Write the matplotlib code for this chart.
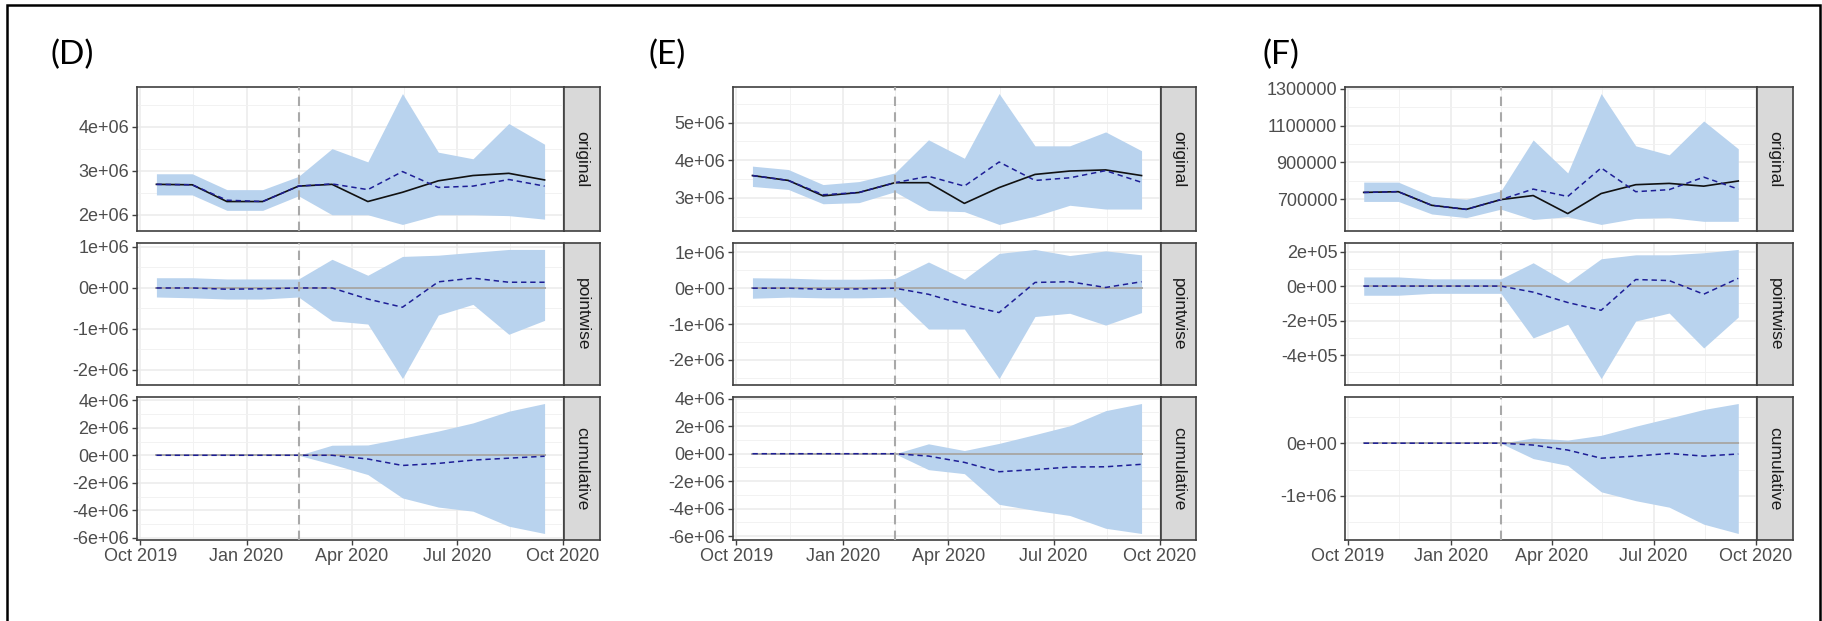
import numpy as np
import pandas as pd
import matplotlib
matplotlib.use('Agg')
import matplotlib.pyplot as plt
import matplotlib.dates as mdates
from matplotlib.ticker import FuncFormatter, MultipleLocator, FixedLocator

plt.rcParams['font.family'] = ['Liberation Sans', 'DejaVu Sans']

# monthly time points
dates = pd.to_datetime(['2019-10-15', '2019-11-15', '2019-12-15', '2020-01-15',
                        '2020-02-15', '2020-03-15', '2020-04-15', '2020-05-15',
                        '2020-06-15', '2020-07-15', '2020-08-15', '2020-09-15'])
intervention = pd.Timestamp('2020-02-15')
x_ticks = pd.to_datetime(['2019-10-01', '2020-01-01', '2020-04-01', '2020-07-01', '2020-10-01'])
x_labels = ['Oct 2019', 'Jan 2020', 'Apr 2020', 'Jul 2020', 'Oct 2020']
facets = ['original', 'pointwise', 'cumulative']

# ---- panel D (values in 1e6)
d_actual = [2.69, 2.68, 2.30, 2.30, 2.65, 2.69, 2.30, 2.51, 2.77, 2.89, 2.94, 2.79]
d_pred = [2.69, 2.68, 2.33, 2.30, 2.65, 2.70, 2.57, 2.98, 2.62, 2.65, 2.80, 2.65]
d_pred_hi = [2.93, 2.93, 2.57, 2.57, 2.87, 3.50, 3.20, 4.75, 3.42, 3.27, 4.07, 3.60]
d_pred_lo = [2.45, 2.45, 2.10, 2.10, 2.43, 2.00, 2.00, 1.78, 2.00, 2.00, 1.98, 1.90]
d_point = [0.0, 0.0, -0.03, -0.02, 0.0, 0.0, -0.27, -0.47, 0.15, 0.24, 0.14, 0.14]
d_point_hi = [0.25, 0.25, 0.22, 0.22, 0.22, 0.70, 0.31, 0.77, 0.80, 0.87, 0.94, 0.94]
d_point_lo = [-0.22, -0.24, -0.27, -0.27, -0.22, -0.80, -0.88, -2.21, -0.66, -0.40, -1.13, -0.79]
d_cum = [0, 0, 0, 0, 0, 0.0, -0.27, -0.74, -0.59, -0.35, -0.21, -0.07]
d_cum_hi = [0, 0, 0, 0, 0, 0.73, 0.75, 1.24, 1.76, 2.35, 3.20, 3.76]
d_cum_lo = [0, 0, 0, 0, 0, -0.65, -1.40, -3.10, -3.76, -4.06, -5.15, -5.68]

# ---- panel E (values in 1e6)
e_actual = [3.59, 3.46, 3.05, 3.14, 3.40, 3.40, 2.85, 3.27, 3.62, 3.71, 3.74, 3.59]
e_pred = [3.59, 3.46, 3.08, 3.14, 3.40, 3.57, 3.31, 3.95, 3.46, 3.53, 3.72, 3.41]
e_pred_hi = [3.84, 3.75, 3.35, 3.43, 3.66, 4.54, 4.05, 5.77, 4.38, 4.38, 4.75, 4.25]
e_pred_lo = [3.30, 3.22, 2.84, 2.87, 3.16, 2.66, 2.63, 2.29, 2.51, 2.80, 2.70, 2.70]
e_point = [0.0, 0.0, -0.03, -0.02, 0.0, -0.17, -0.46, -0.68, 0.16, 0.18, 0.02, 0.18]
e_point_hi = [0.29, 0.28, 0.25, 0.25, 0.27, 0.73, 0.25, 0.97, 1.08, 0.91, 1.04, 0.93]
e_point_lo = [-0.28, -0.25, -0.27, -0.27, -0.25, -1.14, -1.14, -2.52, -0.79, -0.70, -1.03, -0.68]
e_cum = [0, 0, 0, 0, 0, -0.17, -0.63, -1.31, -1.15, -0.97, -0.95, -0.77]
e_cum_hi = [0, 0, 0, 0, 0, 0.72, 0.23, 0.75, 1.39, 2.03, 3.13, 3.65]
e_cum_lo = [0, 0, 0, 0, 0, -1.16, -1.45, -3.68, -4.12, -4.49, -5.42, -5.80]

# ---- panel F (values in 1e3)
f_actual = [737, 741, 667, 645, 698, 720, 622, 731, 779, 786, 771, 799]
f_pred = [737, 741, 667, 645, 698, 755, 715, 870, 741, 752, 820, 755]
f_pred_hi = [793, 793, 716, 700, 745, 1022, 843, 1274, 990, 941, 1125, 974]
f_pred_lo = [688, 688, 620, 600, 646, 590, 605, 563, 596, 600, 580, 580]
f_point = [0, 0, 0, 0, 0, -35, -95, -140, 38, 32, -47, 45]
f_point_hi = [53, 53, 42, 42, 42, 135, 19, 158, 181, 181, 193, 212]
f_point_lo = [-53, -53, -42, -42, -42, -300, -221, -535, -202, -156, -358, -179]
f_cum = [0, 0, 0, 0, 0, -35, -130, -285, -245, -195, -245, -205]
f_cum_hi = [0, 0, 0, 0, 0, 100, 60, 150, 323, 477, 640, 754]
f_cum_lo = [0, 0, 0, 0, 0, -292, -423, -923, -1092, -1215, -1538, -1715]

d_ticks = [[2e6, 3e6, 4e6], [-2e6, -1e6, 0, 1e6], [-6e6, -4e6, -2e6, 0, 2e6, 4e6]]
e_ticks = [[3e6, 4e6, 5e6], [-2e6, -1e6, 0, 1e6], [-6e6, -4e6, -2e6, 0, 2e6, 4e6]]
f_ticks = [[700000, 900000, 1100000, 1300000], [-4e5, -2e5, 0, 2e5], [-1e6, 0]]

W, H = 1822, 621
fig = plt.figure(figsize=(W / 100, H / 100), dpi=100)

def add_ax(x0, y0, x1, y1):
    return fig.add_axes([x0 / W, 1 - y1 / H, (x1 - x0) / W, (y1 - y0) / H])

sci = FuncFormatter(lambda v, p: f'{v:.0e}')
plain = FuncFormatter(lambda v, p: f'{v:.0f}')

FILL = '#B9D3EE'
GREY = '#A9A9A9'
BLUE = '#1E1E96'
rows = [(87, 231), (243, 385), (397, 540)]

def draw_panel(label, label_x, cols, scale, series, ticks, fmts):
    x0, x1, xs = cols
    fig.text(label_x / W, 1 - 55 / H, label, fontsize=24, family='Lato', va='center', ha='left')
    for i, (y0, y1) in enumerate(rows):
        ax = add_ax(x0, y0, x1, y1)
        mid, lo, hi, actual = series[i]
        ax.fill_between(dates, np.array(lo) * scale, np.array(hi) * scale, color=FILL, lw=0, zorder=2)
        if actual is not None:
            ax.plot(dates, np.array(actual) * scale, color='#111111', lw=1.2, zorder=3)
        else:
            ax.plot(dates[[0, -1]], [0, 0], color=GREY, lw=1.4, zorder=3)
        ax.plot(dates, np.array(mid) * scale, color=BLUE, lw=1.1, ls=(0, (3.5, 2.5)), zorder=4)
        ax.axvline(intervention, color=GREY, lw=1.5, ls=(0, (4.5, 3)), zorder=5)
        ax.margins(x=0.05, y=0.05)
        ax.yaxis.set_major_locator(FixedLocator(ticks[i]))
        step = ticks[i][1] - ticks[i][0]
        ax.yaxis.set_minor_locator(MultipleLocator(step / 2))
        ax.yaxis.set_major_formatter(fmts[i])
        ax.set_xticks(x_ticks)
        ax.xaxis.set_minor_locator(FixedLocator(mdates.date2num(pd.to_datetime(
            ['2019-11-16', '2020-02-15', '2020-05-16', '2020-08-16']))))
        ax.grid(which='major', color='#EBEBEB', lw=1.1, zorder=0)
        ax.grid(which='minor', color='#F2F2F2', lw=0.7, zorder=0)
        ax.set_axisbelow(True)
        for s in ax.spines.values():
            s.set_color('#404040')
            s.set_linewidth(1.2)
        ax.tick_params(which='major', length=3.5, width=1.0, color='#404040',
                       labelcolor='#4D4D4D', labelsize=13, pad=2)
        ax.tick_params(which='minor', length=0)
        if i < 2:
            ax.tick_params(axis='x', which='major', length=0, labelbottom=False)
        else:
            ax.set_xticklabels(x_labels)
        # facet strip
        st = add_ax(x1, y0, xs, y1)
        st.set_facecolor('#D9D9D9')
        st.set_xticks([])
        st.set_yticks([])
        for s in st.spines.values():
            s.set_color('#404040')
            s.set_linewidth(1.2)
        st.text(0.5, 0.5, facets[i], rotation=270, ha='center', va='center',
                fontsize=12.5, color='#1A1A1A', transform=st.transAxes)

draw_panel('(D)', 50, (137, 564, 600), 1e6,
           [(d_pred, d_pred_lo, d_pred_hi, d_actual),
            (d_point, d_point_lo, d_point_hi, None),
            (d_cum, d_cum_lo, d_cum_hi, None)],
           d_ticks, [sci, sci, sci])
draw_panel('(E)', 649, (733, 1161, 1196), 1e6,
           [(e_pred, e_pred_lo, e_pred_hi, e_actual),
            (e_point, e_point_lo, e_point_hi, None),
            (e_cum, e_cum_lo, e_cum_hi, None)],
           e_ticks, [sci, sci, sci])
draw_panel('(F)', 1263, (1345, 1757, 1793), 1e3,
           [(f_pred, f_pred_lo, f_pred_hi, f_actual),
            (f_point, f_point_lo, f_point_hi, None),
            (f_cum, f_cum_lo, f_cum_hi, None)],
           f_ticks, [plain, sci, sci])

# outer frame
fig.add_artist(plt.Rectangle((7 / W, -0.05), (1820 - 7) / W, 1.05 - 5 / H,
                             transform=fig.transFigure, fill=False, ec='black', lw=1.8))

fig.savefig('out.png', dpi=100)
